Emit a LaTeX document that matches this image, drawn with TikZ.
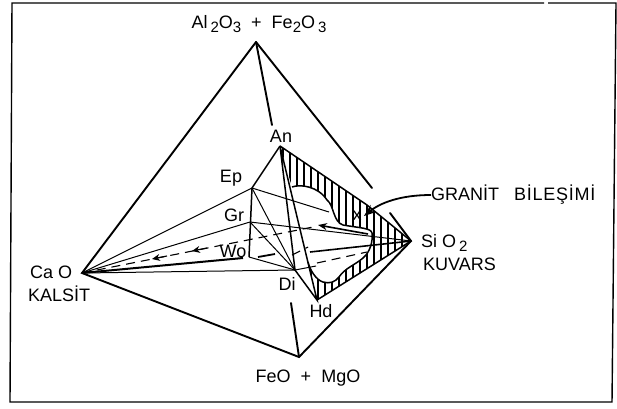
\documentclass[tikz,border=0pt]{standalone}
\usepackage{fontspec}
\setmainfont{Liberation Sans}
\usetikzlibrary{arrows.meta}
\newcommand{\subnum}[1]{\raisebox{-3.5pt}{\fontsize{15}{15}\selectfont #1}}

\begin{document}
\begin{tikzpicture}[
    x=1pt, y=-1pt,
    >=Stealth,
    every node/.style={font=\fontsize{18}{20}\selectfont, inner sep=0pt},
    edge/.style={line width=1.9pt, line cap=round},
    thin line/.style={line width=1.0pt},
    mid line/.style={line width=1.5pt},
    dash line/.style={line width=1.1pt, dash pattern=on 9pt off 6pt},
    hatch/.style={line width=1.5pt},
    label/.style={align=left, anchor=west}
]

    \useasboundingbox (0,0) rectangle (617,408);

    % Frame
    \coordinate (tl) at (12,3);
    \coordinate (tga) at (544,3);
    \coordinate (tgb) at (548,3);
    \coordinate (tr) at (616,3);
    \coordinate (br) at (612,402);
    \coordinate (bl) at (10,402);
    \draw[line width=1.4pt] (tgb) -- (tr) -- (br) -- (bl) -- (tl) -- (tga);

    % Tetrahedron corners
    \coordinate (top) at (256,42);
    \coordinate (cao) at (82,273);
    \coordinate (sio) at (411,241);
    \coordinate (bot) at (299,357);

    % Mineral points
    \coordinate (an) at (280,146);
    \coordinate (ep) at (252,188);
    \coordinate (gr) at (250,222);
    \coordinate (wo) at (249,257);
    \coordinate (di) at (295,270);
    \coordinate (hd) at (317,300);

    % Granite field
    \begin{scope}
        \clip (an) -- (367,205) -- (sio) -- (hd) -- (308,262)
            .. controls (310,270) and (316,280) .. (323,282)
            .. controls (330,284) and (335,282) .. (339,277)
            .. controls (345,268) and (355,265) .. (363,258)
            .. controls (370,252) and (373,242) .. (372,233)
            .. controls (371,228) and (360,228) .. (343,225)
            .. controls (333,222) and (334,205) .. (327,200)
            .. controls (318,186) and (300,184) .. (292,187)
            -- cycle;
        \foreach \x in {283,290,...,411}{
            \draw[hatch] (\x,140) -- (\x,310);
        }
    \end{scope}
    \draw[mid line] (308,262)
        .. controls (310,270) and (316,280) .. (323,282)
        .. controls (330,284) and (335,282) .. (339,277)
        .. controls (345,268) and (355,265) .. (363,258)
        .. controls (370,252) and (373,242) .. (372,233)
        .. controls (371,228) and (360,228) .. (343,225)
        .. controls (333,222) and (334,205) .. (327,200)
        .. controls (318,186) and (300,184) .. (292,187);

    % Outer edges
    \coordinate (topa) at (272,125);
    \coordinate (topb) at (372,188);
    \coordinate (sioa) at (390,213);
    \coordinate (bota) at (291,303);
    \draw[edge] (top) -- (cao) -- (bot) -- (sio);
    \draw[edge] (top) -- (topa);
    \draw[edge] (top) -- (topb);
    \draw[edge] (sioa) -- (sio);
    \draw[edge] (bot) -- (bota);

    % Inner lines
    \draw[mid line] (an) -- (ep) -- (wo);
    \draw[thin line] (wo) -- (di);
    \draw[mid line] (an) -- (hd) -- (di) -- (an);
    \draw[thin line] (ep) -- (di);
    \draw[thin line] (gr) -- (di);
    \draw[thin line] (cao) -- (ep);
    \draw[thin line] (cao) -- (gr);
    \draw[thin line] (cao) -- (di);
    \draw[thin line] (ep) -- (329,212);
    \draw[thin line] (gr) -- (sio);
    \draw[thin line] (di) -- (316,266);
    \draw[mid line] (an) -- (367,205) -- (sio) -- (hd);

    % Lines towards wollastonite
    \coordinate (woa) at (243,258);
    \draw[line width=2pt] (cao) -- (woa);
    \draw[line width=1.8pt] (258,257) -- (275,254);
    \draw[dash line] (292,255) -- (308,247);
    \draw[line width=1.6pt] (310,252) -- (sio);
    \draw[dash line] (317,263) -- (367,252);

    % Dashed line with arrows
    \coordinate (dashb) at (313,227);
    \draw[dash line] (cao) -- (dashb);
    \draw[-{Stealth[length=9pt,width=7pt]}, line width=1.6pt] (368,234) -- (318,225);
    \draw[-{Stealth[length=8pt,width=7pt]}, line width=1.1pt] (207,248) -- (192,251);
    \draw[-{Stealth[length=8pt,width=7pt]}, line width=1.1pt] (167,256) -- (152,259);

    % Labels
    \node (topl) at (259,24) {Al\,\subnum{2}O\subnum{3}\ \ +\ \ Fe\subnum{2}O\,\subnum{3}};
    \node (anl) at (281,136) {An};
    \node (epl) at (231,178) {Ep};
    \node (grl) at (234,215) {Gr};
    \node (wol) at (233,251) {Wo};
    \node (dil) at (287,284) {Di};
    \node (hdl) at (321,311) {Hd};
    \node (xl) at (357,216) {x};
    \node[label] (cal) at (30,272) {Ca O};
    \node[label] (kal) at (28,294) {KALSİT};
    \node[label] (siol) at (421,243) {Si O\,\subnum{2}};
    \node[label] (kuv) at (423,264) {KUVARS};
    \node[label] (gra) at (431,195) {GRANİT\hspace{15pt}{\addfontfeature{LetterSpace=4}BİLEŞİMİ}};
    \node (fel) at (308,378) {FeO\ \ +\ \ MgO};

    % Granite arrow
    \draw[-{Stealth[length=12pt,width=9pt]}, line width=1.8pt] (gra.west)
        .. controls (400,195) and (380,203) .. (364,216);

\end{tikzpicture}
\end{document}
